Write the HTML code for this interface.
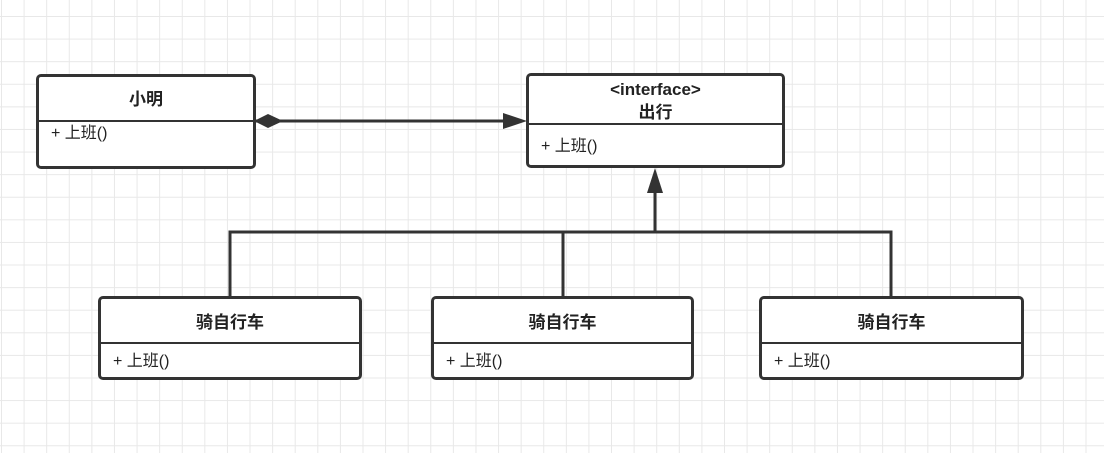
<!DOCTYPE html>
<html><head><meta charset="utf-8"><style>
body{margin:0;width:1104px;height:453px;overflow:hidden;background:#fff;
background-image:linear-gradient(#e8e8e8 1px,transparent 1px),linear-gradient(90deg,#e8e8e8 1px,transparent 1px);
background-size:22.6px 22.6px;background-position:1px 16px;font-family:"Liberation Sans","Noto Sans CJK SC",sans-serif;}
.b{position:absolute;border:3px solid #333;border-radius:5px;background:#fff;box-sizing:border-box}
.h{position:absolute;left:0;right:0;text-align:center;font-weight:bold;font-size:17px;color:#222;line-height:20px}
.d{position:absolute;left:0;right:0;border-top:2px solid #333}
.m{position:absolute;left:12px;font-size:16px;color:#222;line-height:20px}
</style></head><body>
<svg width="1104" height="453" style="position:absolute;left:0;top:0">
<g stroke="#333" stroke-width="3" fill="none">
<line x1="254" y1="121" x2="505" y2="121"/>
<polyline points="230,297 230,232 891,232 891,297"/>
<line x1="563" y1="232" x2="563" y2="297"/>
<line x1="655" y1="232" x2="655" y2="190"/>
</g>
<polygon points="254,121 268,114 283,121 268,128" fill="#333"/>
<polygon points="503,113 527,121 503,129" fill="#333"/>
<polygon points="655,168 647,193 663,193" fill="#333"/>
</svg>
<div class="b" style="left:36px;top:74px;width:220px;height:95px"><div class="h" style="top:13px">小明</div><div class="d" style="top:43px"></div><div class="m" style="top:47px">+ 上班()</div></div>
<div class="b" style="left:526px;top:73px;width:259px;height:95px"><div class="h" style="top:2px;line-height:23px">&lt;interface&gt;<br>出行</div><div class="d" style="top:47px"></div><div class="m" style="top:61px">+ 上班()</div></div>
<div class="b" style="left:98px;top:296px;width:264px;height:84px"><div class="h" style="top:14px">骑自行车</div><div class="d" style="top:43px"></div><div class="m" style="top:53px">+ 上班()</div></div>
<div class="b" style="left:431px;top:296px;width:263px;height:84px"><div class="h" style="top:14px">骑自行车</div><div class="d" style="top:43px"></div><div class="m" style="top:53px">+ 上班()</div></div>
<div class="b" style="left:759px;top:296px;width:265px;height:84px"><div class="h" style="top:14px">骑自行车</div><div class="d" style="top:43px"></div><div class="m" style="top:53px">+ 上班()</div></div>
</body></html>
